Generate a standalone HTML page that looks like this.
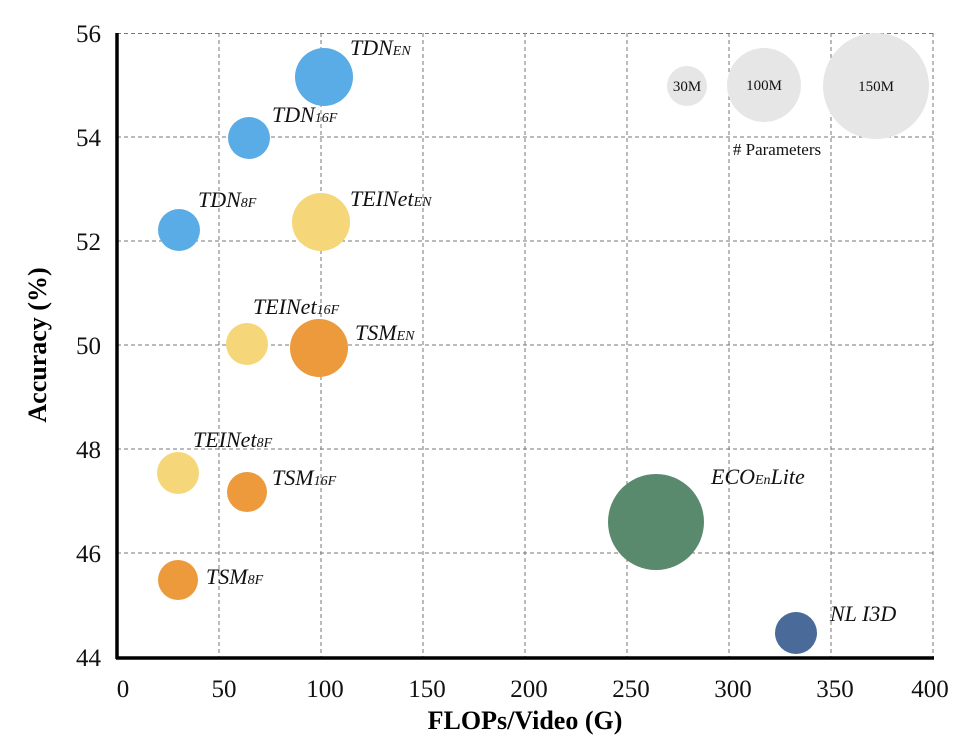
<!DOCTYPE html>
<html><head><style>body{margin:0;background:#fff}</style></head><body>
<svg width="978" height="738" xmlns="http://www.w3.org/2000/svg" font-family="Liberation Serif, serif">
<g stroke="#777" stroke-width="1" stroke-dasharray="4,3" fill="none">
<line x1="117" y1="33.5" x2="933" y2="33.5"/><line x1="117" y1="137" x2="933" y2="137"/><line x1="117" y1="241" x2="933" y2="241"/><line x1="117" y1="345" x2="933" y2="345"/><line x1="117" y1="449" x2="933" y2="449"/><line x1="117" y1="553" x2="933" y2="553"/>
<line x1="219" y1="33" x2="219" y2="658"/><line x1="321" y1="33" x2="321" y2="658"/><line x1="423" y1="33" x2="423" y2="658"/><line x1="525" y1="33" x2="525" y2="658"/><line x1="627" y1="33" x2="627" y2="658"/><line x1="729" y1="33" x2="729" y2="658"/><line x1="831" y1="33" x2="831" y2="658"/><line x1="933" y1="33" x2="933" y2="658"/>
</g>
<line x1="117" y1="33" x2="117" y2="659" stroke="#000" stroke-width="3.5"/>
<line x1="116" y1="658" x2="934" y2="658" stroke="#000" stroke-width="3.5"/>
<g fill="#e6e6e6"><circle cx="687" cy="86" r="20"/><circle cx="764" cy="85" r="37"/><circle cx="876" cy="86" r="53"/></g>
<g font-size="15" text-anchor="middle" fill="#111"><text x="687" y="91">30M</text><text x="764" y="90">100M</text><text x="876" y="91">150M</text><text x="777" y="155" font-size="17"># Parameters</text></g>
<g fill="#5aace6"><circle cx="324" cy="77" r="29"/><circle cx="249" cy="138" r="21"/><circle cx="179" cy="230" r="21"/></g>
<g fill="#f5d77a"><circle cx="321" cy="222" r="29"/><circle cx="247" cy="344" r="21"/><circle cx="178" cy="473" r="21"/></g>
<g fill="#ec9a3c"><circle cx="319" cy="348" r="29"/><circle cx="247" cy="492" r="20"/><circle cx="178" cy="580" r="20"/></g>
<circle cx="656" cy="522" r="48" fill="#5a8a6e"/>
<circle cx="796" cy="633" r="21" fill="#4a6a9a"/>
<g font-size="22" font-style="italic" fill="#111">
<text x="350" y="55">TDN<tspan font-size="14">EN</tspan></text>
<text x="272" y="122">TDN<tspan font-size="14">16F</tspan></text>
<text x="198" y="207">TDN<tspan font-size="14">8F</tspan></text>
<text x="350" y="206">TEINet<tspan font-size="14">EN</tspan></text>
<text x="253" y="314">TEINet<tspan font-size="14">16F</tspan></text>
<text x="355" y="340">TSM<tspan font-size="14">EN</tspan></text>
<text x="193" y="447">TEINet<tspan font-size="14">8F</tspan></text>
<text x="272" y="485">TSM<tspan font-size="14">16F</tspan></text>
<text x="206" y="584">TSM<tspan font-size="14">8F</tspan></text>
<text x="711" y="484">ECO<tspan font-size="14">En</tspan>Lite</text>
<text x="830" y="621">NL I3D</text>
</g>
<g font-size="25" fill="#111" text-anchor="end">
<text x="101" y="42">56</text><text x="101" y="146">54</text><text x="101" y="250">52</text><text x="101" y="354">50</text><text x="101" y="458">48</text><text x="101" y="562">46</text><text x="101" y="666">44</text>
</g>
<g font-size="25" fill="#111" text-anchor="middle">
<text x="123" y="697">0</text><text x="224" y="697">50</text><text x="325" y="697">100</text><text x="427" y="697">150</text><text x="529" y="697">200</text><text x="631" y="697">250</text><text x="733" y="697">300</text><text x="835" y="697">350</text><text x="930" y="697">400</text>
</g>
<text x="525" y="729" font-size="26" font-weight="bold" text-anchor="middle">FLOPs/Video (G)</text>
<text transform="translate(46,345) rotate(-90)" font-size="26" font-weight="bold" text-anchor="middle">Accuracy (%)</text>
</svg>
</body></html>
